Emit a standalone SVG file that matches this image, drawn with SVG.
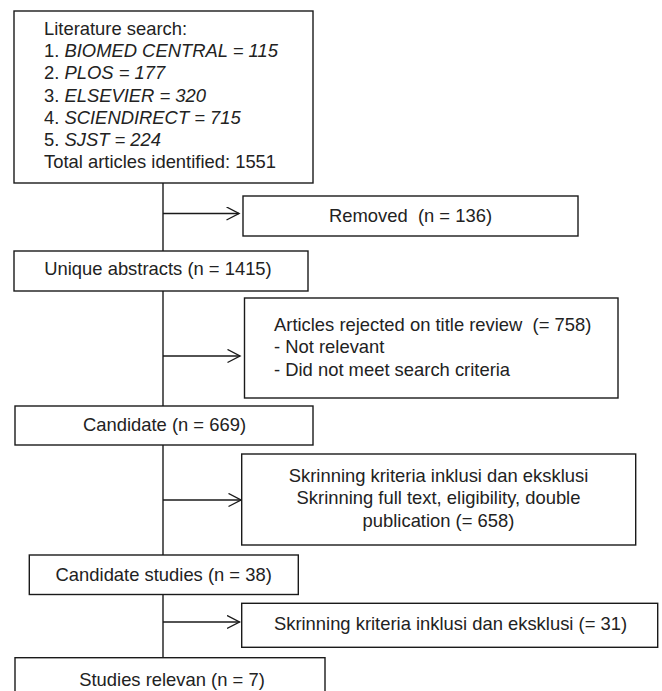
<svg xmlns="http://www.w3.org/2000/svg" width="662" height="691" viewBox="0 0 662 691">
<style>
  .box { fill: #ffffff; stroke: #1a1a1a; stroke-width: 1.4; }
  .t { font-family: "Liberation Sans", Arial, sans-serif; font-size: 18.4px; fill: #222222; }
  .c { text-anchor: middle; }
  .i { font-style: italic; }
  .ln { stroke: #1a1a1a; stroke-width: 1.4; fill: none; }
</style>
<defs>
  <marker id="arr" markerUnits="userSpaceOnUse" markerWidth="16" markerHeight="16" refX="13" refY="7" orient="auto">
    <path d="M0.5,0.5 L13,7 L0.5,13.5" fill="none" stroke="#1a1a1a" stroke-width="1.4"/>
  </marker>
</defs>
<rect width="662" height="691" fill="#ffffff"/>
<g id="connectors">
  <line class="ln" x1="163" y1="183" x2="163" y2="251"/>
  <line class="ln" x1="163" y1="291" x2="163" y2="406"/>
  <line class="ln" x1="163" y1="445" x2="163" y2="555"/>
  <line class="ln" x1="163" y1="595" x2="163" y2="658"/>
  <line class="ln" x1="163" y1="213.5" x2="239" y2="213.5" marker-end="url(#arr)"/>
  <line class="ln" x1="163" y1="356" x2="240" y2="356" marker-end="url(#arr)"/>
  <line class="ln" x1="163" y1="500" x2="241" y2="500" marker-end="url(#arr)"/>
  <line class="ln" x1="163" y1="622" x2="239.5" y2="622" marker-end="url(#arr)"/>
</g>
<g id="search">
  <rect class="box" x="14" y="11" width="299" height="172"/>
  <text class="t" x="44" y="35">Literature search:</text>
  <text class="t" x="44" y="57">1. <tspan class="i">BIOMED CENTRAL = 115</tspan></text>
  <text class="t" x="44" y="79">2. <tspan class="i">PLOS = 177</tspan></text>
  <text class="t" x="44" y="101.5">3. <tspan class="i">ELSEVIER = 320</tspan></text>
  <text class="t" x="44" y="124">4. <tspan class="i">SCIENDIRECT = 715</tspan></text>
  <text class="t" x="44" y="146">5. <tspan class="i">SJST = 224</tspan></text>
  <text class="t" x="44" y="168">Total articles identified: 1551</text>
</g>
<g id="removed">
  <rect class="box" x="243" y="196" width="335" height="40"/>
  <text class="t c" x="410.5" y="221.5" xml:space="preserve">Removed  (n = 136)</text>
</g>
<g id="unique">
  <rect class="box" x="14" y="251" width="294" height="40"/>
  <text class="t c" x="158" y="275">Unique abstracts (n = 1415)</text>
</g>
<g id="rejected">
  <rect class="box" x="244.5" y="298" width="373.5" height="100"/>
  <text class="t" x="274" y="330.5" xml:space="preserve">Articles rejected on title review  (= 758)</text>
  <text class="t" x="274" y="353">- Not relevant</text>
  <text class="t" x="274" y="375.5">- Did not meet search criteria</text>
</g>
<g id="candidate">
  <rect class="box" x="15" y="406" width="298" height="39"/>
  <text class="t c" x="164.5" y="430.5">Candidate (n = 669)</text>
</g>
<g id="screening1">
  <rect class="box" x="241.7" y="454" width="394" height="91"/>
  <text class="t c" x="438.5" y="481.5">Skrinning kriteria inklusi dan eksklusi</text>
  <text class="t c" x="438.5" y="504">Skrinning full text, eligibility, double</text>
  <text class="t c" x="438.5" y="526.5">publication (= 658)</text>
</g>
<g id="candidate-studies">
  <rect class="box" x="29.3" y="555" width="269" height="39.5"/>
  <text class="t c" x="163.7" y="580.5">Candidate studies (n = 38)</text>
</g>
<g id="screening2">
  <rect class="box" x="241.7" y="603.3" width="416" height="44"/>
  <text class="t c" x="450.5" y="629.5">Skrinning kriteria inklusi dan eksklusi (= 31)</text>
</g>
<g id="relevant">
  <rect class="box" x="15" y="657.7" width="310" height="50"/>
  <text class="t c" x="172" y="686">Studies relevan (n = 7)</text>
</g>
</svg>
